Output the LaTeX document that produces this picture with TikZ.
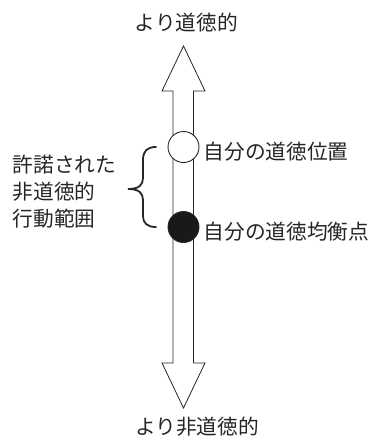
\documentclass[tikz,border=0pt]{standalone}
\usepackage{fontspec}
\newfontfamily\cjk{Noto Sans CJK JP}
\begin{document}
\begin{tikzpicture}[x=1pt,y=1pt,
  lbl/.style={inner sep=0pt, font=\cjk\fontsize{20.7}{27}\selectfont, text=black!85},
  dot/.style={circle, draw=black!85, line width=0.9pt, minimum size=31pt, inner sep=0pt}]
\useasboundingbox (0,0) rectangle (375,-441);
% double arrow
\draw[line width=0.8pt, draw=black!85, fill=white]
  (183.5,-46) -- (205,-91) -- (193.5,-91) -- (193.5,-363) -- (205,-363) -- (183.5,-408)
  -- (162,-363) -- (173,-363) -- (173,-91) -- (162,-91) -- cycle;
% circles
\node[dot, fill=white] (pos) at (183.5,-147) {};
\node[dot, fill=black!90] (eq) at (183.5,-227) {};
% labels
\node[lbl] (top) at (186.5,-23) {より道徳的};
\node[lbl] (bot) at (197,-427) {より非道徳的};
\node[lbl, anchor=west] (poslbl) at (203.5,-152) {自分の道徳位置};
\node[lbl, anchor=west] (eqlbl) at (203.5,-232) {自分の道徳均衡点};
\node[lbl, anchor=north west, align=left] (range) at (12.5,-155) {許諾された\\非道徳的\\行動範囲};
% brace
\draw[line width=1.8pt, draw=black!85, line cap=round]
  (156,-147) .. controls (147,-147) and (143,-151) .. (143,-160) -- (143,-178)
  .. controls (143,-185) and (139,-189) .. (128,-189)
  .. controls (139,-189) and (143,-193) .. (143,-200) -- (143,-216)
  .. controls (143,-223) and (147,-227) .. (156,-227);
\end{tikzpicture}
\end{document}
